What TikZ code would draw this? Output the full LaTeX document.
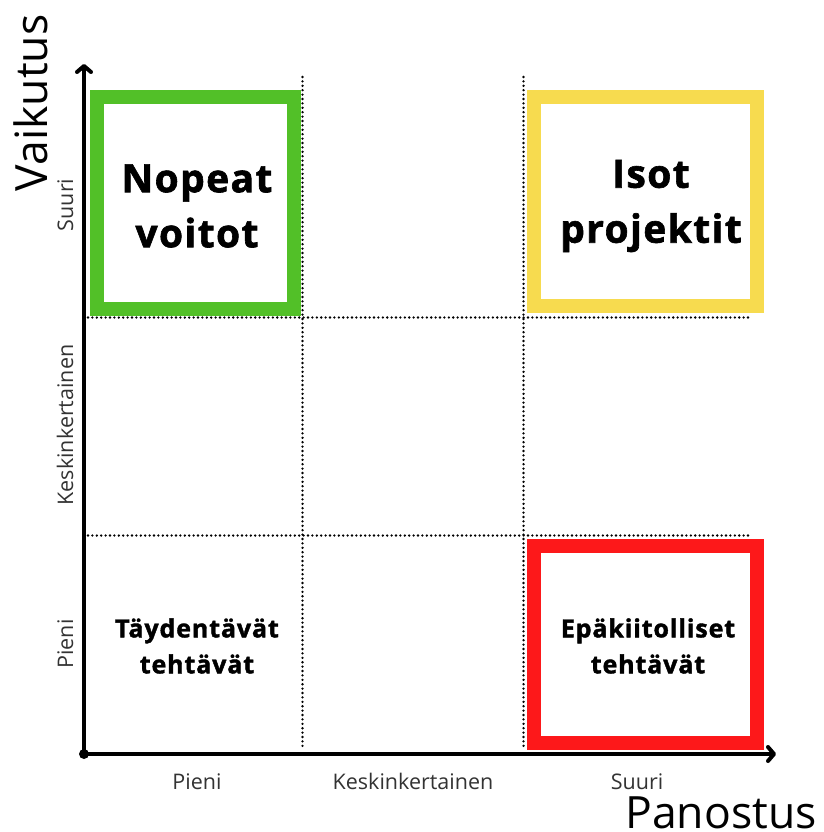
\documentclass[tikz,border=0pt]{standalone}
\usepackage{fontspec}
\setmainfont{Open Sans}
\newfontfamily\paksu{Open Sans}[LetterSpace=3.5, BoldFeatures={FakeBold=1.6}]
\usetikzlibrary{arrows.meta}

\definecolor{vihrea}{RGB}{82,192,40}
\definecolor{keltainen}{RGB}{247,219,79}
\definecolor{punainen}{RGB}{253,24,26}

\tikzset{
  ruudukko/.style={line width=2.6pt, dash pattern=on 0pt off 4.4pt, line cap=round},
  akseli/.style={line width=4pt, -{Straight Barb[length=6pt,width=14pt,line cap=round,line join=round]}},
  laatikko/.style={line width=14pt},
  otsikko/.style={font=\paksu\bfseries\fontsize{39}{55}\selectfont, align=center, inner sep=0pt},
  alaotsikko/.style={font=\paksu\bfseries\fontsize{25}{36}\selectfont, align=center, inner sep=0pt},
  asteikko/.style={font=\fontsize{21.5}{24}\selectfont, text=black!80, anchor=base, inner sep=0pt},
  akselinimi/.style={font=\fontsize{44.5}{50}\selectfont, anchor=base, inner sep=0pt}
}

\begin{document}
\begin{tikzpicture}[x=1pt,y=-1pt]
    \useasboundingbox (0,0) rectangle (823,832);

    % laatikot
    \draw[laatikko, vihrea] (97,97.5) rectangle (294,309);
    \draw[laatikko, keltainen] (534,97.5) rectangle (757,305.5);
    \draw[laatikko, punainen] (534,546) rectangle (757,743);

    % ruudukko
    \draw[ruudukko] (302.5,77) -- (302.5,750);
    \draw[ruudukko] (523.5,77) -- (523.5,750);
    \draw[ruudukko] (88,317.5) -- (748,317.5);
    \draw[ruudukko] (88,535.5) -- (748,535.5);

    % akselit
    \coordinate (o) at (84,754);
    \coordinate (ylos) at (84,64);
    \coordinate (oikealle) at (776,754);
    \draw[akseli] (o) -- (ylos);
    \draw[akseli] (o) -- (oikealle);
    \fill (o) circle (5pt);

    \node[otsikko] (nopeat) at (197,206) {Nopeat\\voitot};
    \node[otsikko] (isot) at (651,206) {Isot\\projektit};
    \node[alaotsikko] (taydentavat) at (197,646) {Täydentävät\\tehtävät};
    \node[alaotsikko] (epakiitolliset) at (648,646) {Epäkiitolliset\\tehtävät};

    \node[akselinimi, rotate=90] (vaikutus) at (47,103) {Vaikutus};
    \node[akselinimi] (panostus) at (721,828) {Panostus};

    \node[asteikko] (x-pieni) at (197,789) {Pieni};
    \node[asteikko] (x-keski) at (413,789) {Keskinkertainen};
    \node[asteikko] (x-suuri) at (637,789) {Suuri};
    \node[asteikko, rotate=90] (y-suuri) at (73,205) {Suuri};
    \node[asteikko, rotate=90] (y-keski) at (73,425) {Keskinkertainen};
    \node[asteikko, rotate=90] (y-pieni) at (73,644) {Pieni};

\end{tikzpicture}
\end{document}
